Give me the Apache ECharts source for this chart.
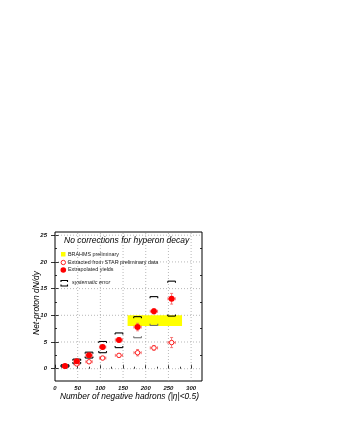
<!DOCTYPE html>
<html><head><meta charset="utf-8">
<script src="https://cdn.jsdelivr.net/npm/echarts@6/dist/echarts.min.js"></script>
<style>html,body{margin:0;padding:0;background:#fff}#c{width:337px;height:436px}</style>
</head><body><div id="c"></div>
<script>
// ---- data ----
const xTicks = [0, 50, 100, 150, 200, 250, 300];
const xMinorTicks = [25, 75, 125, 175, 225, 275];
const yTicks = [0, 5, 10, 15, 20, 25];
const yMinorTicks = [-2.5, 2.5, 7.5, 12.5, 17.5, 22.5];
const nch = [22, 48, 75, 105, 141, 182, 218, 257];
const extrapolated = [0.5, 1.4, 2.5, 4.05, 5.4, 7.8, 10.75, 13.1];
const extrapErrY = [0.25, 0.3, 0.3, 0.35, 0.4, 0.7, 0.5, 1.0];
const extracted = [0.45, 0.9, 1.3, 2.0, 2.5, 3.0, 3.9, 4.9];
const extractErrY = [0.2, 0.25, 0.25, 0.3, 0.35, 0.6, 0.45, 0.95];
const errX = [5, 6, 7, 7, 8, 8, 8, 8];
const sysHigh = [0.75, 1.8, 3.1, 5.1, 6.7, 9.75, 13.5, 16.4];
const sysLow = [0.3, 0.94, 2.0, 3.0, 3.95, 5.8, 8.1, 9.85];
const brahmsX = [160, 280];
const brahmsY = [8, 10];

const X_MIN = 0, X_MAX = 324, Y_MIN = -2.3, Y_MAX = 25.6;
const FONT = '"Liberation Sans", Arial, sans-serif';

const chart = echarts.init(document.getElementById('c'), null, {renderer: 'canvas'});

function line(a, b, st) { return {type: 'line', shape: {x1: a[0], y1: a[1], x2: b[0], y2: b[1]}, style: st}; }

function errRender(params, api) {
  const x = api.value(0), y = api.value(1), ex = api.value(2), ey = api.value(3);
  const l = api.coord([x - ex, y]), r = api.coord([x + ex, y]);
  const t = api.coord([x, y + ey]), b = api.coord([x, y - ey]);
  const st = {stroke: '#f25a5a', lineWidth: 0.8};
  const c = 1.5;
  return {type: 'group', children: [
    line(l, r, st), line(t, b, st),
    line([l[0], l[1] - c], [l[0], l[1] + c], st),
    line([r[0], r[1] - c], [r[0], r[1] + c], st),
    line([t[0] - c, t[1]], [t[0] + c, t[1]], st),
    line([b[0] - c, b[1]], [b[0] + c, b[1]], st)
  ]};
}

const grayLow = new Set([5, 6]);
function sysRender(params, api) {
  const x = api.value(0), hi = api.value(1), lo = api.value(2);
  const w = 8.5, h = 1.6;
  const a = api.coord([x - w, hi]), b = api.coord([x + w, hi]);
  const c = api.coord([x - w, lo]), d = api.coord([x + w, lo]);
  const stT = {stroke: '#000', lineWidth: 1.1};
  const stB = {stroke: grayLow.has(params.dataIndex) ? '#6e6e6e' : '#000', lineWidth: 1.1};
  return {type: 'group', children: [
    line(a, b, stT), line(a, [a[0], a[1] + h], stT), line(b, [b[0], b[1] + h], stT),
    line(c, d, stB), line(c, [c[0], c[1] - h], stB), line(d, [d[0], d[1] - h], stB)
  ]};
}

function bandRender(params, api) {
  const p1 = api.coord([api.value(0), api.value(3)]);
  const p2 = api.coord([api.value(2), api.value(1)]);
  return {type: 'rect', shape: {x: p1[0], y: p1[1], width: p2[0] - p1[0], height: p2[1] - p1[1]},
          style: {fill: '#ffff00'}};
}

function vGridRender(params, api) {
  const v = api.value(0);
  return line(api.coord([v, Y_MIN]), api.coord([v, Y_MAX]), {stroke: '#9a9a9a', lineWidth: 0.7, lineDash: [1, 2]});
}
function hGridRender(params, api) {
  const v = api.value(1);
  return line(api.coord([X_MIN, v]), api.coord([X_MAX, v]), {stroke: '#9a9a9a', lineWidth: 0.7, lineDash: [1, 2]});
}

const tickLabel = {fontFamily: FONT, fontStyle: 'italic', fontWeight: 'bold', fontSize: 6, color: '#111'};

function xAx(opts) {
  return Object.assign({type: 'value', min: X_MIN, max: X_MAX, position: 'bottom', gridIndex: 0,
    splitLine: {show: false}, axisLine: {show: false}, axisLabel: {show: false},
    axisTick: {show: false}}, opts);
}
function yAx(opts) {
  return Object.assign({type: 'value', min: Y_MIN, max: Y_MAX, gridIndex: 0,
    splitLine: {show: false}, axisLine: {show: false}, axisLabel: {show: false},
    axisTick: {show: false}}, opts);
}

const option = {
  animation: false,
  backgroundColor: '#fff',
  grid: {left: 55, top: 232, width: 147, height: 149, show: true, borderColor: '#000', borderWidth: 1, backgroundColor: 'transparent'},
  xAxis: [
    xAx({axisTick: {show: true, inside: true, length: 4, customValues: xTicks, lineStyle: {color: '#000', width: 0.8}},
         axisLabel: Object.assign({show: true, margin: 4, customValues: xTicks}, tickLabel)}),
    xAx({axisTick: {show: true, inside: true, length: 2, customValues: xMinorTicks, lineStyle: {color: '#000', width: 0.8}}})
  ],
  yAxis: [
    yAx({position: 'left', axisTick: {show: true, inside: true, length: 4, customValues: yTicks, lineStyle: {color: '#000', width: 0.8}},
         axisLabel: Object.assign({show: true, margin: 8, customValues: yTicks}, tickLabel)}),
    yAx({position: 'right', axisTick: {show: true, inside: true, length: 4, customValues: yTicks, lineStyle: {color: '#000', width: 0.8}}}),
    yAx({position: 'left', axisTick: {show: true, inside: true, length: 2, customValues: yMinorTicks, lineStyle: {color: '#000', width: 0.8}}}),
    yAx({position: 'right', axisTick: {show: true, inside: true, length: 2, customValues: yMinorTicks, lineStyle: {color: '#000', width: 0.8}}})
  ],
  series: [
    {type: 'custom', name: 'vgrid', xAxisIndex: 0, yAxisIndex: 0, z: 1, silent: true,
     data: xTicks.filter(v => v > X_MIN).map(v => [v, 0]), renderItem: vGridRender},
    {type: 'custom', name: 'hgrid', xAxisIndex: 0, yAxisIndex: 0, z: 1, silent: true,
     data: yTicks.map(v => [0, v]), renderItem: hGridRender},
    {type: 'custom', name: 'BRAHMS preliminary', xAxisIndex: 0, yAxisIndex: 0, z: 2,
     data: [[brahmsX[0], brahmsY[0], brahmsX[1], brahmsY[1]]], renderItem: bandRender},
    {type: 'custom', name: 'systematic error', xAxisIndex: 0, yAxisIndex: 0, z: 3,
     data: nch.map((x, i) => [x, sysHigh[i], sysLow[i]]), renderItem: sysRender},
    {type: 'custom', name: 'err extracted', xAxisIndex: 0, yAxisIndex: 0, z: 4,
     data: nch.map((x, i) => [x, extracted[i], errX[i], extractErrY[i]]), renderItem: errRender},
    {type: 'custom', name: 'err extrapolated', xAxisIndex: 0, yAxisIndex: 0, z: 4,
     data: nch.map((x, i) => [x, extrapolated[i], errX[i], extrapErrY[i]]), renderItem: errRender},
    {type: 'scatter', name: 'Extracted from STAR preliminary data', xAxisIndex: 0, yAxisIndex: 0, z: 5,
     symbol: 'circle', symbolSize: 4.5,
     itemStyle: {color: '#fff', borderColor: '#ff2020', borderWidth: 1, opacity: 1},
     data: nch.map((x, i) => [x, extracted[i]])},
    {type: 'scatter', name: 'Extrapolated yields', xAxisIndex: 0, yAxisIndex: 0, z: 6,
     symbol: 'circle', symbolSize: 6,
     itemStyle: {color: '#ff0000', opacity: 1},
     data: nch.map((x, i) => [x, extrapolated[i]])}
  ],
  graphic: [
    {type: 'text', left: 64, top: 236, z: 20,
     style: {text: 'No corrections for hyperon decay', font: 'italic 8.5px ' + FONT, fill: '#000'}},
    {type: 'rect', shape: {x: 61, y: 252, width: 4.5, height: 4.5}, style: {fill: '#ffff00'}, z: 20},
    {type: 'text', x: 68, y: 254.5, z: 20,
     style: {text: 'BRAHMS preliminary', font: '5.4px ' + FONT, fill: '#222', verticalAlign: 'middle'}},
    {type: 'circle', shape: {cx: 63.3, cy: 262.5, r: 2.2}, style: {fill: '#fff', stroke: '#ff2020', lineWidth: 1}, z: 20},
    {type: 'text', x: 68, y: 262.5, z: 20,
     style: {text: 'Extracted from STAR preliminary data', font: '5.4px ' + FONT, fill: '#222', verticalAlign: 'middle'}},
    {type: 'circle', shape: {cx: 63.3, cy: 270, r: 2.8}, style: {fill: '#ff0000'}, z: 20},
    {type: 'text', x: 68, y: 270, z: 20,
     style: {text: 'Extrapolated yields', font: '5.4px ' + FONT, fill: '#222', verticalAlign: 'middle'}},
    {type: 'polyline', shape: {points: [[61, 282], [61, 280.5], [67.5, 280.5], [67.5, 282]]}, style: {stroke: '#000', lineWidth: 1.1, fill: null}, z: 20},
    {type: 'polyline', shape: {points: [[61, 284.5], [61, 286], [67.5, 286], [67.5, 284.5]]}, style: {stroke: '#000', lineWidth: 1.1, fill: null}, z: 20},
    {type: 'text', x: 72, y: 282.5, z: 20,
     style: {text: 'systematic error', font: 'italic 5.4px ' + FONT, fill: '#222', verticalAlign: 'middle'}},
    {type: 'text', x: 37, y: 303, rotation: Math.PI / 2, z: 20,
     style: {text: 'Net-proton dN/dy', font: 'italic 8.4px ' + FONT, fill: '#000', align: 'center', verticalAlign: 'middle'}},
    {type: 'text', x: 199, y: 397, z: 20,
     style: {text: 'Number of negative hadrons (|η|<0.5)', font: 'italic 8.4px ' + FONT, fill: '#000', align: 'right', verticalAlign: 'middle'}}
  ]
};
chart.setOption(option);
</script>
</body></html>
